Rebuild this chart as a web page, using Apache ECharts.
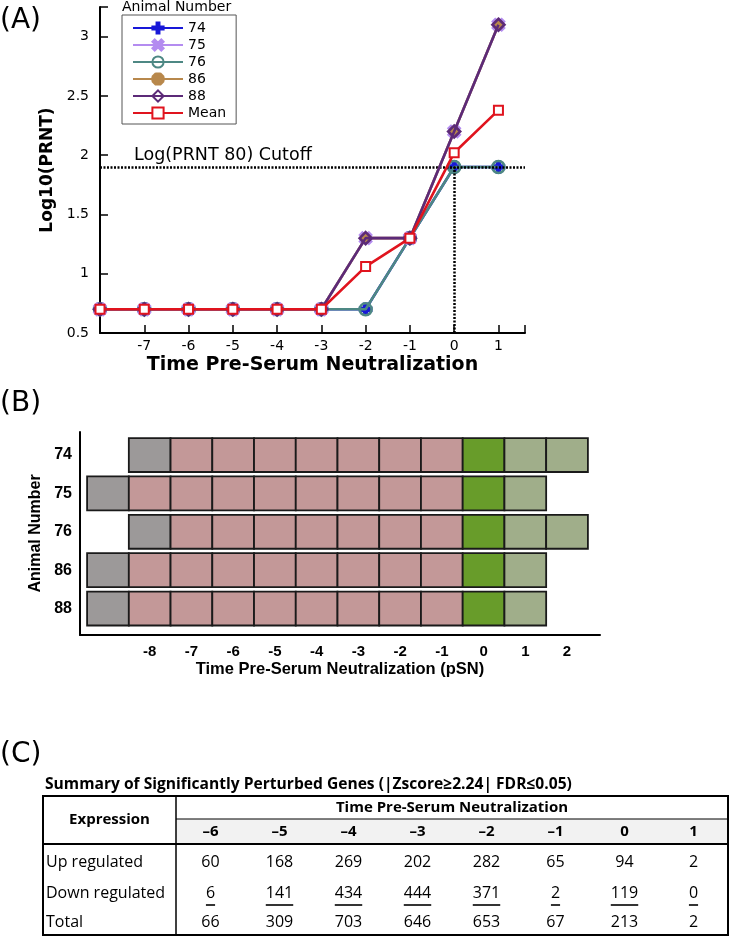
<!DOCTYPE html>
<html><head><meta charset="utf-8">
<script src="https://cdn.jsdelivr.net/npm/echarts@6/dist/echarts.min.js"></script>
<style>html,body{margin:0;padding:0;background:#fff}#c{width:731px;height:936px}</style>
</head><body><div id="c"></div>
<script>
// ---------- Panel A data ----------
const timeA = [-8, -7, -6, -5, -4, -3, -2, -1, 0, 1];
const s74 = [0.7, 0.7, 0.7, 0.7, 0.7, 0.7, 0.7, 1.3, 1.9, 1.9];
const s75 = [0.7, 0.7, 0.7, 0.7, 0.7, 0.7, 1.3, 1.3, 2.2, 3.1];
const s76 = [0.7, 0.7, 0.7, 0.7, 0.7, 0.7, 0.7, 1.3, 1.9, 1.9];
const s86 = [0.7, 0.7, 0.7, 0.7, 0.7, 0.7, 1.3, 1.3, 2.2, 3.1];
const s88 = [0.7, 0.7, 0.7, 0.7, 0.7, 0.7, 1.3, 1.3, 2.2, 3.1];
const sMean = [0.7, 0.7, 0.7, 0.7, 0.7, 0.7, 1.06, 1.3, 2.02, 2.38];
const cutoff = 1.9;
const cutoffLabel = 'Log(PRNT 80) Cutoff';

// ---------- Panel B data ----------
const pSN = [-9, -8, -7, -6, -5, -4, -3, -2, -1, 0, 1, 2];
const animals = ['74', '75', '76', '86', '88'];
// 0 none, 1 baseline (gray), 2 pre-SN (pink), 3 SN (green), 4 post-SN (light green)
const states74 = [0, 1, 2, 2, 2, 2, 2, 2, 2, 3, 4, 4];
const states75 = [1, 2, 2, 2, 2, 2, 2, 2, 2, 3, 4, 0];
const states76 = [0, 1, 2, 2, 2, 2, 2, 2, 2, 3, 4, 4];
const states86 = [1, 2, 2, 2, 2, 2, 2, 2, 2, 3, 4, 0];
const states88 = [1, 2, 2, 2, 2, 2, 2, 2, 2, 3, 4, 0];

// ---------- Panel C data ----------
const tableTitle = 'Summary of Significantly Perturbed Genes (|Zscore\u22652.24| FDR\u22640.05)';
const tableTimes = ['\u20136', '\u20135', '\u20134', '\u20133', '\u20132', '\u20131', '0', '1'];
const upReg = [60, 168, 269, 202, 282, 65, 94, 2];
const downReg = [6, 141, 434, 444, 371, 2, 119, 0];
const totalReg = [66, 309, 703, 646, 653, 67, 213, 2];
const rowLabels = ['Up regulated', 'Down regulated', 'Total'];

// ---------- styles ----------
const FONT = 'Liberation Sans, Arial, sans-serif';
const AFONT = 'DejaVu Sans, sans-serif';
const TFONT = 'Open Sans, sans-serif';
const colA = {'74': '#1818d8', '75': '#b48cf0', '76': '#4e8884', '86': '#b8884c', '88': '#5c2a78', 'Mean': '#e0141e'};
const stateColors = [null, '#9c9999', '#c39898', '#689c2a', '#a0ae8a'];

function barsPath(angles) {
  const L = 5, W = 1.3;
  return 'path://' + angles.map(a => {
    const r = a * Math.PI / 180, c = Math.cos(r), s = Math.sin(r);
    const pts = [[-L, -W], [L, -W], [L, W], [-L, W]].map(([x, y]) => [(x * c - y * s + 6).toFixed(3), (x * s + y * c + 6).toFixed(3)]);
    return 'M' + pts.map(p => p.join(',')).join(' L') + ' Z';
  }).join(' ');
}
const symPlus = barsPath([0, 90]);
const symX = barsPath([45, 135]);
const symStar = barsPath([0, 45, 90, 135]);

function lineSeries(name, data, symbol, size, z, fill) {
  return {
    name, type: 'line', xAxisIndex: 0, yAxisIndex: 0, z,
    data: timeA.map((t, i) => [t, data[i]]),
    symbol, symbolSize: size, showAllSymbol: true,
    lineStyle: {color: colA[name], width: 2.6},
    itemStyle: {color: fill || colA[name], borderColor: colA[name], borderWidth: 2.6},
    emphasis: {disabled: true}
  };
}

const s74Series = lineSeries('74', s74, symPlus, 11, 2);
s74Series.markLine = {
  silent: true, symbol: 'none', animation: false,
  lineStyle: {color: '#000', width: 2.5, type: [2, 1.5]},
  label: {show: false},
  data: [
    [{coord: [-8, cutoff], label: {show: true, formatter: cutoffLabel, position: 'insideStartTop', distance: [34, 3], fontSize: 17.5, color: '#000', fontFamily: AFONT}},
     {coord: [1.6, cutoff]}],
    [{coord: [0, 0.5]}, {coord: [0, cutoff]}]
  ]
};

const heatRows = [states74, states75, states76, states86, states88];
const heatData = [];
heatRows.forEach((row, r) => row.forEach((s, c) => { if (s) heatData.push([pSN[c], r, s]); }));

// ---------- table graphics ----------
const T = {left: 43, right: 728, labelRight: 176, top: 796, head1: 819, head2: 844, bottom: 935, rowY: [862, 893, 922], titleY: 785, head1Y: 808, head2Y: 832};
const measureCtx = document.createElement('canvas').getContext('2d');
function textW(str, font) { measureCtx.font = font; return measureCtx.measureText(str).width; }
const colW = (T.right - T.labelRight) / tableTimes.length;
const tableEls = [];
tableEls.push({type: 'rect', shape: {x: T.labelRight, y: T.head1, width: T.right - T.labelRight, height: T.head2 - T.head1}, style: {fill: '#f2f2f2'}});
tableEls.push({type: 'rect', shape: {x: T.left, y: T.top, width: T.right - T.left, height: T.bottom - T.top}, style: {fill: 'none', stroke: '#000', lineWidth: 2}});
tableEls.push({type: 'line', shape: {x1: T.labelRight, y1: T.top, x2: T.labelRight, y2: T.bottom}, style: {stroke: '#000', lineWidth: 1.5}});
tableEls.push({type: 'line', shape: {x1: T.labelRight, y1: T.head1, x2: T.right, y2: T.head1}, style: {stroke: '#000', lineWidth: 1}});
tableEls.push({type: 'line', shape: {x1: T.left, y1: T.head2, x2: T.right, y2: T.head2}, style: {stroke: '#000', lineWidth: 2}});
tableEls.push({type: 'text', x: T.left + 2, y: T.titleY, style: {text: tableTitle, font: 'bold 15.6px ' + TFONT, fill: '#000', textVerticalAlign: 'middle', textAlign: 'left'}});
tableEls.push({type: 'text', x: (T.left + T.labelRight) / 2, y: (T.top + T.head2) / 2, style: {text: 'Expression', font: 'bold 15px ' + TFONT, fill: '#000', textAlign: 'center', textVerticalAlign: 'middle'}});
tableEls.push({type: 'text', x: (T.labelRight + T.right) / 2, y: T.head1Y, style: {text: 'Time Pre-Serum Neutralization', font: 'bold 15px ' + TFONT, fill: '#000', textAlign: 'center', textVerticalAlign: 'middle'}});
tableTimes.forEach((t, i) => {
  tableEls.push({type: 'text', x: T.labelRight + colW * (i + 0.5), y: T.head2Y, style: {text: t, font: 'bold 15px ' + TFONT, fill: '#000', textAlign: 'center', textVerticalAlign: 'middle'}});
});
const rowVals = [upReg, downReg, totalReg];
rowLabels.forEach((lab, r) => {
  tableEls.push({type: 'text', x: T.left + 3, y: T.rowY[r], style: {text: lab, font: '16px ' + TFONT, fill: '#000', textAlign: 'left', textVerticalAlign: 'middle'}});
  rowVals[r].forEach((v, i) => {
    const cx = T.labelRight + colW * (i + 0.5);
    tableEls.push({type: 'text', x: cx, y: T.rowY[r], style: {text: String(v), font: '16px ' + TFONT, fill: '#000', textAlign: 'center', textVerticalAlign: 'middle'}});
    if (r === 1) {
      const w = textW(String(v), '16px ' + TFONT);
      tableEls.push({type: 'line', shape: {x1: cx - w / 2, y1: T.rowY[r] + 12, x2: cx + w / 2, y2: T.rowY[r] + 12}, style: {stroke: '#000', lineWidth: 1.6}});
    }
  });
});

const panelLabels = [['(A)', 21], ['(B)', 404], ['(C)', 755]].map(([t, y]) => ({
  type: 'text', x: 0, y, style: {text: t, font: '28px ' + AFONT, fill: '#000', textVerticalAlign: 'middle'}
}));

const isInt = v => Math.abs(v - Math.round(v)) < 1e-6;

const option = {
  animation: false,
  backgroundColor: '#fff',
  textStyle: {fontFamily: FONT},
  title: {text: 'Animal Number', left: 122, top: 0, padding: 0, textStyle: {fontSize: 14, fontWeight: 'normal', color: '#000', fontFamily: AFONT}},
  legend: {
    orient: 'vertical', left: 122, top: 15, data: ['74', '75', '76', '86', '88', 'Mean'],
    itemWidth: 50, itemHeight: 14, itemGap: 3, padding: [6, 10, 4, 10],
    borderColor: '#555', borderWidth: 1, backgroundColor: '#fff',
    textStyle: {fontSize: 14, color: '#000', fontFamily: AFONT}, selectedMode: false
  },
  grid: [
    {left: 100, right: 206, top: 7, bottom: 603, outerBoundsMode: 'none'},
    {left: 80, right: 131, top: 432, bottom: 301, outerBoundsMode: 'none'}
  ],
  xAxis: [
    {type: 'value', gridIndex: 0, min: -8, max: 1.6, interval: 1,
     axisLine: {onZero: false, lineStyle: {color: '#000', width: 2}},
     axisTick: {inside: true, length: 8, lineStyle: {color: '#000', width: 1.5}},
     axisLabel: {fontSize: 14, color: '#000', margin: 6, fontFamily: AFONT, formatter: v => (isInt(v) && v > -8) ? String(Math.round(v)) : ''},
     splitLine: {show: false},
     name: 'Time Pre-Serum Neutralization', nameLocation: 'middle', nameGap: 23,
     nameTextStyle: {fontSize: 19, fontWeight: 'bold', color: '#000', fontFamily: AFONT}},
    {type: 'value', gridIndex: 1, min: -9.67, max: 2.79, splitNumber: 12, minInterval: 1, maxInterval: 1,
     axisLine: {onZero: false, lineStyle: {color: '#000', width: 2}},
     axisTick: {show: false},
     axisLabel: {fontSize: 15, fontWeight: 'bold', color: '#000', margin: 9, showMinLabel: true, showMaxLabel: true,
                 formatter: v => (isInt(v) && v >= -8 && v <= 2) ? String(Math.round(v)) : ''},
     splitLine: {show: false},
     name: 'Time Pre-Serum Neutralization (pSN)', nameLocation: 'middle', nameGap: 26,
     nameTextStyle: {fontSize: 16.5, fontWeight: 'bold', color: '#000', fontFamily: FONT}}
  ],
  yAxis: [
    {type: 'value', gridIndex: 0, min: 0.5, max: 3.25, interval: 0.5,
     axisLine: {onZero: false, lineStyle: {color: '#000', width: 2}},
     axisTick: {inside: true, length: 8, lineStyle: {color: '#000', width: 1.5}},
     axisLabel: {fontSize: 14, color: '#000', margin: 11, fontFamily: AFONT, formatter: v => v > 3.01 ? '' : String(v)},
     splitLine: {show: false},
     name: 'Log10(PRNT)', nameLocation: 'middle', nameGap: 32, nameRotate: 90,
     nameTextStyle: {fontSize: 17, fontWeight: 'bold', color: '#000', fontFamily: AFONT}},
    {type: 'value', gridIndex: 1, min: -0.6, max: 4.69, inverse: true, splitNumber: 5, minInterval: 1, maxInterval: 1,
     axisLine: {onZero: false, lineStyle: {color: '#000', width: 2}},
     axisTick: {show: false},
     axisLabel: {fontSize: 16, fontWeight: 'bold', color: '#000', margin: 8,
                 formatter: v => (isInt(v) && v >= 0 && v <= 4) ? animals[Math.round(v)] : ''},
     splitLine: {show: false},
     name: 'Animal Number', nameLocation: 'middle', nameGap: 35, nameRotate: 90,
     nameTextStyle: {fontSize: 16, fontWeight: 'bold', color: '#000', fontFamily: FONT}}
  ],
  graphic: panelLabels.concat(tableEls),
  series: [
    s74Series,
    lineSeries('75', s75, symX, 11, 4),
    lineSeries('76', s76, 'circle', 12, 3, 'rgba(255,255,255,0)'),
    lineSeries('86', s86, symStar, 8, 5),
    lineSeries('88', s88, 'diamond', 12, 6, 'rgba(255,255,255,0)'),
    lineSeries('Mean', sMean, 'emptyRect', 9, 7),
    {
      type: 'custom', xAxisIndex: 1, yAxisIndex: 1, data: heatData, silent: true,
      renderItem(params, api) {
        const p = api.coord([api.value(0), api.value(1)]);
        const sz = api.size([1, 0.885]);
        const w = Math.abs(sz[0]), h = Math.abs(sz[1]);
        return {type: 'rect', shape: {x: p[0] - w / 2, y: p[1] - h / 2, width: w, height: h},
                style: {fill: stateColors[api.value(2)], stroke: '#1a1a1a', lineWidth: 1.8}};
      }
    }
  ]
};
const chart = echarts.init(document.getElementById('c'));
chart.setOption(option);
</script></body></html>
